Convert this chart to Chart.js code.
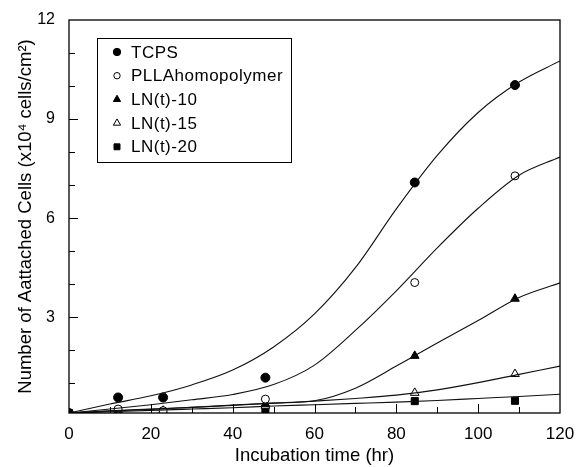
<!DOCTYPE html>
<html>
<head>
<meta charset="utf-8">
<script src="https://cdn.jsdelivr.net/npm/chart.js@4/dist/chart.umd.min.js"></script>
<style>
  html, body { margin: 0; padding: 0; background: #fff; }
  #wrap { width: 581px; height: 467px; }
</style>
</head>
<body>
<div id="wrap"><canvas id="chart" width="581" height="467"></canvas></div>
<script>
// smooth fit curves, every 10 hr
const curveTimes = [0, 10, 20, 30, 40, 50, 60, 70, 80, 90, 100, 110, 120];
const tcpsCurve  = [0.1, 0.37, 0.62, 0.95, 1.4, 2.1, 3.1, 4.5, 6.28, 7.9, 9.2, 10.12, 10.76];
const pllaCurve  = [0.1, 0.22, 0.35, 0.5, 0.66, 0.96, 1.55, 2.6, 3.8, 5.1, 6.3, 7.3, 7.85];
const ln10Curve  = [0.1, 0.17, 0.22, 0.27, 0.34, 0.4, 0.47, 0.85, 1.52, 2.22, 2.9, 3.6, 4.04];
const ln15Curve  = [0.1, 0.16, 0.21, 0.27, 0.33, 0.4, 0.46, 0.54, 0.64, 0.8, 1.02, 1.27, 1.52];
const ln20Curve  = [0.1, 0.14, 0.18, 0.22, 0.26, 0.31, 0.35, 0.39, 0.43, 0.48, 0.54, 0.6, 0.67];

// measured points
const sampleTimes = [0, 12, 23, 48, 84.5, 109];
const tcps = [0.1, 0.57, 0.57, 1.17, 7.08, 10.03];
const plla = [0.1, 0.22, 0.17, 0.52, 4.05, 7.28];
const ln10 = [0.1, 0.12, 0.1, 0.37, 1.83, 3.56];
const ln15 = [0.1, 0.17, 0.17, 0.32, 0.71, 1.28];
const ln20 = [0.1, 0.1, 0.05, 0.22, 0.46, 0.47];

const seriesNames = ['TCPS', 'PLLAhomopolymer', 'LN(t)-10', 'LN(t)-15', 'LN(t)-20'];
const xTicks = [0, 20, 40, 60, 80, 100, 120];
const yTicks = [3, 6, 9, 12];

const markers = [
  { style: 'circle', fill: '#000', r: 4.5 },
  { style: 'circle', fill: '#fff', r: 4 },
  { style: 'triangle', fill: '#000', r: 5 },
  { style: 'triangle', fill: '#fff', r: 5 },
  { style: 'rect', fill: '#000', r: 5 }
];

const toXY = (xs, ys) => xs.map((x, i) => ({ x: x, y: ys[i] }));

const curves = [tcpsCurve, pllaCurve, ln10Curve, ln15Curve, ln20Curve];
const points = [tcps, plla, ln10, ln15, ln20];

const datasets = [];
curves.forEach((c, i) => {
  datasets.push({
    label: seriesNames[i] + ' fit',
    data: toXY(curveTimes, c),
    showLine: true,
    borderColor: '#111',
    borderWidth: 1.1,
    pointRadius: 0,
    cubicInterpolationMode: 'monotone',
    fill: false
  });
});
points.forEach((p, i) => {
  datasets.push({
    label: seriesNames[i],
    data: toXY(sampleTimes, p),
    showLine: false,
    pointStyle: markers[i].style,
    pointRadius: markers[i].r,
    pointBackgroundColor: markers[i].fill,
    pointBorderColor: '#000',
    pointBorderWidth: 1
  });
});

const framePlugin = {
  id: 'frame',
  afterDraw(chart) {
    const ctx = chart.ctx;
    const a = chart.chartArea;
    const xs = chart.scales.x, ys = chart.scales.y;
    ctx.save();
    ctx.strokeStyle = '#000';
    ctx.lineWidth = 1.3;
    ctx.strokeRect(a.left, a.top, a.right - a.left, a.bottom - a.top);

    // inward tick marks
    ctx.lineWidth = 1;
    ctx.beginPath();
    for (let v = 10; v < 120; v += 10) {
      const px = Math.round(xs.getPixelForValue(v)) + 0.5;
      const len = v % 20 === 0 ? 9 : 6;
      ctx.moveTo(px, a.bottom);
      ctx.lineTo(px, a.bottom - len);
    }
    for (let v = 1; v < 12; v++) {
      const py = Math.round(ys.getPixelForValue(v)) + 0.5;
      const len = v % 3 === 0 ? 9 : 6;
      ctx.moveTo(a.left, py);
      ctx.lineTo(a.left + len, py);
    }
    ctx.stroke();

    // legend box
    const bx = 97, by = 38, bw = 194, bh = 124;
    ctx.lineWidth = 1;
    ctx.strokeRect(bx + 0.5, by + 0.5, bw, bh);
    ctx.beginPath();
    ctx.rect(bx, by, bw, bh);
    ctx.clip();
    ctx.font = '17px "Liberation Sans", Arial, sans-serif';
    ctx.letterSpacing = '0.5px';
    ctx.textBaseline = 'middle';
    seriesNames.forEach((name, i) => {
      const cy = 52 + i * 23.7;
      const m = markers[i];
      ctx.fillStyle = m.fill;
      ctx.strokeStyle = '#000';
      Chart.helpers.drawPoint(ctx, { pointStyle: m.style, radius: m.r - 0.8, borderWidth: 1 }, 117, cy);
      ctx.fillStyle = '#000';
      ctx.fillText(name, 131, cy + 1);
    });
    ctx.restore();
  }
};

Chart.defaults.font.family = '"Liberation Sans", Arial, sans-serif';
Chart.defaults.color = '#000';

new Chart(document.getElementById('chart'), {
  type: 'scatter',
  data: { datasets: datasets },
  options: {
    responsive: false,
    animation: false,
    layout: { padding: { top: 20, right: 21, left: 0, bottom: 0 } },
    plugins: { legend: { display: false }, tooltip: { enabled: false } },
    scales: {
      x: {
        type: 'linear',
        min: 0, max: 120,
        afterBuildTicks: s => { s.ticks = xTicks.map(v => ({ value: v })); },
        afterFit: s => { s.height = 54; },
        grid: { display: false },
        border: { display: false },
        ticks: { font: { size: 17 }, padding: 3, maxRotation: 0, autoSkip: false },
        title: { display: true, text: 'Incubation time (hr)', font: { size: 18.5 }, padding: { top: 0, bottom: 0 } }
      },
      y: {
        type: 'linear',
        min: 0.1, max: 12,
        afterBuildTicks: s => { s.ticks = yTicks.map(v => ({ value: v })); },
        afterFit: s => { s.width = 69; },
        grid: { display: false },
        border: { display: false },
        ticks: { font: { size: 16 }, padding: 6, autoSkip: false },
        title: { display: true, text: 'Number of Aattached Cells (x10\u2074 cells/cm\u00B2)', font: { size: 18.5 }, padding: { top: 15, bottom: 0 } }
      }
    }
  },
  plugins: [framePlugin]
});
</script>
</body>
</html>
